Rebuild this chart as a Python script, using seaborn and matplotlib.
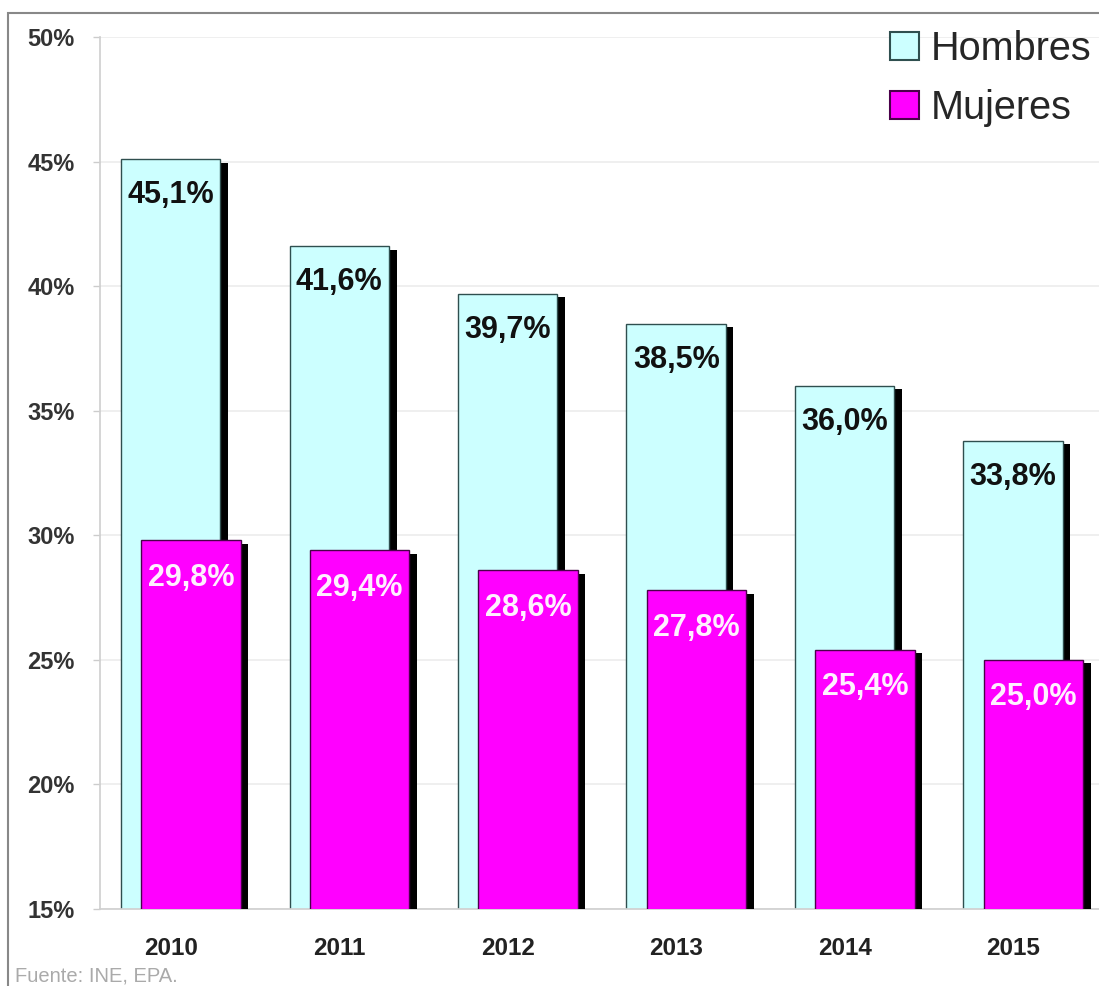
import numpy as np
import pandas as pd
import matplotlib
matplotlib.use("Agg")
import matplotlib.pyplot as plt
import matplotlib.patheffects as pe
from matplotlib.patches import Patch, Rectangle
import seaborn as sns

# ---- data ----
years = ["2010", "2011", "2012", "2013", "2014", "2015"]
hombres = [45.1, 41.6, 39.7, 38.5, 36.0, 33.8]
mujeres = [29.8, 29.4, 28.6, 27.8, 25.4, 25.0]
hombres_labels = ["45,1%", "41,6%", "39,7%", "38,5%", "36,0%", "33,8%"]
mujeres_labels = ["29,8%", "29,4%", "28,6%", "27,8%", "25,4%", "25,0%"]
yticks = [15, 20, 25, 30, 35, 40, 45, 50]
ytick_labels = ["15%", "20%", "25%", "30%", "35%", "40%", "45%", "50%"]
series_names = ["Hombres", "Mujeres"]
source_text = "Fuente: INE, EPA."

sns.set_theme(style="white")
plt.rcParams["font.family"] = ["Liberation Sans", "DejaVu Sans"]

c_h = "#CCFFFF"
c_m = "#FF00FF"

fig = plt.figure(figsize=(10.99, 9.86), dpi=100)
ax = fig.add_axes([100 / 1099, 77 / 986, 1 - 100 / 1099, (909 - 37) / 986])

idx = np.arange(len(years))
off_m = 0.12
width = 0.59

df_h = pd.DataFrame({"x": idx + 0.0, "y": hombres})
df_m = pd.DataFrame({"x": idx + off_m, "y": mujeres})

shadow = [pe.SimplePatchShadow(offset=(5.5, -2.5), shadow_rgbFace="black", alpha=1.0), pe.Normal()]

sns.barplot(data=df_h, x="x", y="y", native_scale=True, width=width, color=c_h,
            saturation=1, edgecolor="#2f4f4f", linewidth=1.0, errorbar=None, ax=ax)
n_h = len(ax.patches)
for p in ax.patches:
    p.set_path_effects(shadow)
    p.set_zorder(2)

sns.barplot(data=df_m, x="x", y="y", native_scale=True, width=width, color=c_m,
            saturation=1, edgecolor="#4a004a", linewidth=1.0, errorbar=None, ax=ax)
for p in ax.patches[n_h:]:
    p.set_path_effects(shadow)
    p.set_zorder(3)

# value labels
for x, v, lab in zip(df_h["x"], hombres, hombres_labels):
    ax.annotate(lab, (x, v), xytext=(0, -26), textcoords="offset points",
                ha="center", va="center", fontsize=22, fontweight="bold",
                color="#111111", zorder=5)
for x, v, lab in zip(df_m["x"], mujeres, mujeres_labels):
    ax.annotate(lab, (x, v), xytext=(0, -27), textcoords="offset points",
                ha="center", va="center", fontsize=22, fontweight="bold",
                color="#fff0ff", zorder=5)

ax.set_ylim(15, 50)
ax.set_xlim(-0.42, 5.51)
ax.set_yticks(yticks)
ax.set_yticklabels(ytick_labels, fontsize=17, fontweight="bold", color="#333333")
ax.set_xticks(idx + 0.0)
ax.set_xticklabels(years, fontsize=17.5, fontweight="bold", color="#222222")
ax.tick_params(axis="x", length=0, pad=20)
ax.tick_params(axis="y", length=5, color="#cccccc", width=1, pad=13, left=True)
ax.set_xlabel("")
ax.set_ylabel("")
ax.grid(axis="y", color="#ececec", linewidth=1.2)
ax.set_axisbelow(True)
for s in ["top", "right"]:
    ax.spines[s].set_visible(False)
ax.spines["left"].set_color("#d0d0d0")
ax.spines["bottom"].set_color("#d0d0d0")

handles = [Patch(facecolor=c_h, edgecolor="#2f4f4f", linewidth=1.5),
           Patch(facecolor=c_m, edgecolor="#4a004a", linewidth=1.5)]
fig.legend(handles, series_names, loc="upper left", bbox_to_anchor=(890 / 1099, 1 - 30 / 986),
           frameon=False, fontsize=28.5, handlelength=0.72, handleheight=0.72,
           handletextpad=0.3, labelspacing=0.52, borderpad=0, borderaxespad=0)

fig.text(15 / 1099, 1 - 976 / 986, source_text, fontsize=14.5, color="#aaaaaa",
         ha="left", va="center")

fig.patches.append(Rectangle((8 / 1099, -0.1), 1.2, 1.1 - 13 / 986, transform=fig.transFigure,
                             fill=False, edgecolor="#888888", linewidth=1.5))

fig.savefig("out.png", dpi=100)
